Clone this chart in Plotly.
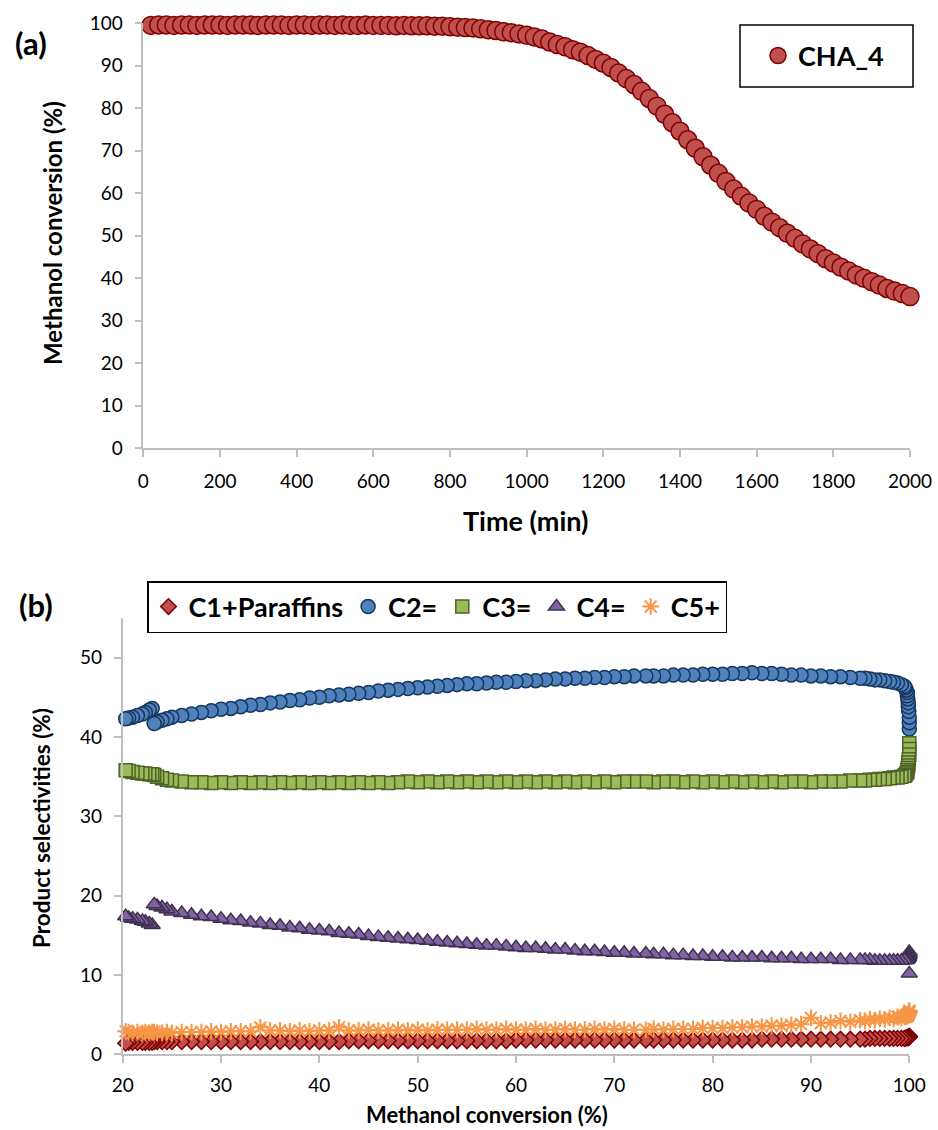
import plotly.graph_objects as go

W, H = 938, 1130
FONT = "Lato"

# ---------------- (a) Methanol conversion vs time ----------------
time_min = [20, 40, 60, 80, 100, 120, 140, 160, 180, 200,
            220, 240, 260, 280, 300, 320, 340, 360, 380, 400,
            420, 440, 460, 480, 500, 520, 540, 560, 580, 600,
            620, 640, 660, 680, 700, 720, 740, 760, 780, 800,
            820, 840, 860, 880, 900, 920, 940, 960, 980, 1000,
            1020, 1040, 1060, 1080, 1100, 1120, 1140, 1160, 1180, 1200,
            1220, 1240, 1260, 1280, 1300, 1320, 1340, 1360, 1380, 1400,
            1420, 1440, 1460, 1480, 1500, 1520, 1540, 1560, 1580, 1600,
            1620, 1640, 1660, 1680, 1700, 1720, 1740, 1760, 1780, 1800,
            1820, 1840, 1860, 1880, 1900, 1920, 1940, 1960, 1980, 2000]
cha4_conversion = [99.5, 99.6, 99.6, 99.5, 99.6, 99.6, 99.5, 99.6, 99.6, 99.6,
                   99.5, 99.6, 99.6, 99.6, 99.5, 99.6, 99.6, 99.6, 99.5, 99.6,
                   99.6, 99.5, 99.6, 99.6, 99.5, 99.6, 99.5, 99.5, 99.6, 99.5,
                   99.5, 99.5, 99.4, 99.5, 99.4, 99.4, 99.4, 99.3, 99.3, 99.2,
                   99.1, 99.0, 98.9, 98.7, 98.5, 98.3, 98.0, 97.8, 97.5, 97.2,
                   96.8, 96.3, 95.6, 95.0, 94.5, 93.8, 93.2, 92.4, 91.5, 90.6,
                   89.6, 88.3, 87.0, 85.6, 84.0, 82.3, 80.5, 78.6, 76.6, 74.6,
                   72.6, 70.6, 68.6, 66.6, 64.7, 62.8, 61.0, 59.3, 57.7, 56.2,
                   54.6, 53.2, 51.9, 50.6, 49.4, 48.1, 46.9, 45.8, 44.6, 43.6,
                   42.6, 41.7, 40.8, 40.0, 39.2, 38.4, 37.6, 37.0, 36.4, 35.7]

# ---------------- (b) Product selectivities vs conversion ----------------
conversion = [100.0, 100.0, 100.0, 99.95, 99.9, 99.9, 99.85, 99.8, 99.8, 99.7,
              99.6, 99.5, 99.2, 98.8, 98.4, 98.0, 97.5, 97.0, 96.5, 96.0,
              95.5, 95.0, 94.0, 93.0, 92.0, 91.0, 90.0, 89.0, 88.0, 87.0,
              86.0, 85.0, 84.0, 83.0, 82.0, 81.0, 80.0, 79.0, 78.0, 77.0,
              76.0, 75.0, 74.0, 73.2, 72.0, 71.0, 70.0, 69.0, 68.0, 67.0,
              66.0, 65.0, 64.0, 63.0, 62.0, 61.0, 60.0, 59.0, 58.0, 57.0,
              56.0, 55.0, 54.0, 53.0, 52.0, 51.0, 50.0, 49.0, 48.0, 47.0,
              46.0, 45.0, 44.0, 43.0, 42.0, 41.0, 40.0, 39.0, 38.0, 37.0,
              36.0, 35.0, 34.0, 33.0, 32.0, 31.0, 30.0, 29.0, 28.0, 27.0,
              26.0, 25.0, 24.5, 24.0, 23.5, 23.2, 23.0, 22.7, 22.3, 22.0,
              21.5, 21.0, 20.6, 20.3]
c1_paraffins = [2.3, 2.2, 2.2, 2.2, 2.2, 2.1, 2.1, 2.1, 2.1, 2.1,
                2.0, 2.0, 2.0, 2.0, 2.0, 2.0, 2.0, 2.0, 2.0, 2.0,
                1.9, 1.9, 1.9, 1.9, 1.9, 1.9, 1.9, 1.9, 1.9, 1.9,
                1.9, 1.9, 1.8, 1.8, 1.8, 1.8, 1.8, 1.8, 1.8, 1.8,
                1.8, 1.8, 1.8, 1.8, 1.8, 1.8, 1.8, 1.8, 1.8, 1.8,
                1.8, 1.8, 1.8, 1.8, 1.8, 1.8, 1.8, 1.7, 1.7, 1.7,
                1.7, 1.7, 1.7, 1.7, 1.7, 1.7, 1.7, 1.7, 1.7, 1.7,
                1.7, 1.7, 1.7, 1.7, 1.6, 1.6, 1.6, 1.6, 1.6, 1.6,
                1.6, 1.6, 1.6, 1.6, 1.6, 1.6, 1.6, 1.6, 1.6, 1.6,
                1.6, 1.6, 1.6, 1.6, 1.6, 1.6, 1.5, 1.5, 1.5, 1.5,
                1.5, 1.5, 1.5, 1.4]
c2_olefin = [41.0, 41.8, 42.5, 43.2, 43.8, 44.3, 44.8, 45.2, 45.6, 45.9,
             46.2, 46.4, 46.6, 46.8, 46.9, 47.0, 47.1, 47.2, 47.2, 47.3,
             47.4, 47.4, 47.5, 47.6, 47.6, 47.7, 47.7, 47.8, 47.8, 47.9,
             48.0, 48.0, 48.1, 48.0, 48.0, 47.9, 47.9, 47.9, 47.8, 47.8,
             47.8, 47.7, 47.7, 47.7, 47.7, 47.6, 47.6, 47.5, 47.5, 47.4,
             47.4, 47.3, 47.3, 47.2, 47.1, 47.1, 47.0, 46.9, 46.9, 46.8,
             46.7, 46.7, 46.6, 46.5, 46.4, 46.3, 46.2, 46.1, 46.0, 45.9,
             45.8, 45.6, 45.5, 45.4, 45.3, 45.2, 45.0, 44.9, 44.7, 44.6,
             44.4, 44.3, 44.1, 44.0, 43.8, 43.6, 43.5, 43.3, 43.1, 42.9,
             42.7, 42.5, 42.3, 42.1, 41.9, 41.7, 43.6, 43.4, 43.1, 42.9,
             42.7, 42.5, 42.4, 42.3]
c3_olefin = [39.2, 38.5, 37.8, 37.2, 36.8, 36.4, 36.1, 35.8, 35.6, 35.4,
             35.2, 35.1, 35.0, 34.9, 34.9, 34.8, 34.7, 34.7, 34.6, 34.6,
             34.5, 34.5, 34.5, 34.4, 34.4, 34.4, 34.3, 34.4, 34.4, 34.3,
             34.4, 34.3, 34.4, 34.3, 34.4, 34.3, 34.4, 34.3, 34.4, 34.3,
             34.4, 34.4, 34.3, 34.4, 34.4, 34.4, 34.3, 34.4, 34.3, 34.4,
             34.3, 34.4, 34.3, 34.4, 34.3, 34.4, 34.3, 34.4, 34.3, 34.4,
             34.3, 34.4, 34.3, 34.4, 34.3, 34.4, 34.3, 34.4, 34.3, 34.2,
             34.3, 34.2, 34.3, 34.2, 34.3, 34.2, 34.3, 34.2, 34.3, 34.2,
             34.3, 34.2, 34.3, 34.2, 34.3, 34.2, 34.3, 34.2, 34.3, 34.3,
             34.4, 34.5, 34.6, 34.8, 35.0, 35.2, 35.3, 35.3, 35.4, 35.4,
             35.5, 35.6, 35.7, 35.8]
c4_olefin = [10.2, 12.9, 12.6, 12.4, 12.3, 12.2, 12.1, 12.0, 12.0, 11.9,
             11.9, 11.9, 11.8, 11.8, 11.8, 11.8, 11.8, 11.8, 11.8, 11.9,
             11.9, 11.9, 11.9, 11.9, 12.0, 12.0, 12.0, 12.0, 12.1, 12.1,
             12.1, 12.2, 12.2, 12.2, 12.2, 12.3, 12.3, 12.4, 12.4, 12.5,
             12.5, 12.6, 12.6, 12.7, 12.7, 12.8, 12.8, 12.9, 13.0, 13.0,
             13.1, 13.2, 13.2, 13.3, 13.4, 13.4, 13.5, 13.6, 13.7, 13.7,
             13.8, 13.9, 14.0, 14.1, 14.2, 14.3, 14.4, 14.5, 14.6, 14.7,
             14.8, 14.9, 15.1, 15.2, 15.3, 15.5, 15.6, 15.7, 15.9, 16.0,
             16.2, 16.3, 16.5, 16.6, 16.8, 16.9, 17.1, 17.3, 17.4, 17.6,
             17.8, 18.0, 18.3, 18.5, 18.7, 18.9, 16.3, 16.5, 16.7, 16.8,
             17.0, 17.1, 17.2, 17.4]
c5_plus = [5.5, 5.3, 5.4, 5.2, 5.0, 5.1, 4.9, 5.0, 4.8, 4.9,
           4.7, 4.8, 4.6, 4.7, 4.5, 4.6, 4.4, 4.5, 4.3, 4.4,
           4.2, 4.3, 4.1, 4.2, 4.0, 3.9, 4.6, 3.8, 3.7, 3.6,
           3.6, 3.5, 3.5, 3.4, 3.4, 3.3, 3.3, 3.3, 3.2, 3.2,
           3.2, 3.1, 3.2, 3.1, 3.1, 3.1, 3.2, 3.1, 3.2, 3.1,
           3.1, 3.2, 3.1, 3.1, 3.2, 3.1, 3.1, 3.2, 3.1, 3.1,
           3.2, 3.1, 3.1, 3.1, 3.1, 3.0, 3.1, 3.0, 3.1, 3.0,
           3.0, 3.1, 3.0, 3.0, 3.4, 3.0, 3.0, 2.9, 3.0, 2.9,
           3.0, 3.0, 3.4, 2.9, 2.9, 2.9, 2.8, 2.9, 2.8, 2.8,
           2.8, 2.7, 2.8, 2.7, 2.7, 2.8, 2.8, 2.7, 2.8, 2.7,
           2.8, 2.7, 2.8, 2.9]

# ---------------- geometry helpers (pixel -> paper) ----------------
def px(x):
    return x / W

def py(y):
    return (H - y) / H

fig = go.Figure()

fig.add_trace(go.Scatter(
    x=time_min, y=cha4_conversion, mode="markers", name="<b>CHA_4</b>",
    marker=dict(symbol="circle", size=18, color="#C0504D",
                line=dict(color="#7F0000", width=1.5)),
    cliponaxis=False, xaxis="x", yaxis="y", legend="legend", showlegend=True))

series_b = [
    ("C1+Paraffins", c1_paraffins, "diamond", 12, "#C0504D", "#7F0000"),
    ("C2=", c2_olefin, "circle", 14, "#4F81BD", "#17375E"),
    ("C3=", c3_olefin, "square", 13, "#9BBB59", "#4F6228"),
    ("C4=", c4_olefin, "triangle-up", 14, "#8064A2", "#3F3151"),
]
for name, vals, sym, size, fill, edge in series_b:
    fig.add_trace(go.Scatter(
        x=conversion, y=vals, mode="markers", name="<b>" + name + "</b>",
        marker=dict(symbol=sym, size=size, color=fill,
                    line=dict(color=edge, width=1.5)),
        cliponaxis=False, xaxis="x2", yaxis="y2", legend="legend2", showlegend=True))
fig.add_trace(go.Scatter(
    x=conversion, y=c5_plus, mode="markers", name="<b>C5+</b>",
    marker=dict(symbol="asterisk-open", size=14, color="#F79646",
                line=dict(color="#F79646", width=2)),
    cliponaxis=False, xaxis="x2", yaxis="y2", legend="legend2", showlegend=True))

axis_common = dict(showline=True, linecolor="#BFBFBF", linewidth=1.5,
                   ticks="outside", tickcolor="#BFBFBF", tickwidth=1.5, ticklen=7,
                   showgrid=False, zeroline=False, automargin=False,
                   tickfont=dict(family=FONT, size=19, color="#000000"))

def label(text, x, y, size, angle=0):
    return dict(text="<b>" + text + "</b>", xref="paper", yref="paper",
                x=px(x), y=py(y), xanchor="center", yanchor="middle",
                showarrow=False, textangle=angle,
                font=dict(family=FONT, size=size, color="#000000"))

fig.update_layout(
    template="none",
    width=W, height=H, autosize=False, showlegend=True,
    margin=dict(l=0, r=0, t=0, b=0, pad=0),
    paper_bgcolor="white", plot_bgcolor="white",
    font=dict(family=FONT, color="#000000"),
    xaxis=dict(domain=[px(143.3), px(910)], range=[0, 2000], dtick=200,
               anchor="y", ticklabelstandoff=8, **axis_common),
    yaxis=dict(domain=[py(448.3), py(23.3)], range=[0, 100], dtick=10,
               anchor="x", ticklabelstandoff=8, **axis_common),
    xaxis2=dict(domain=[px(122.7), px(909.3)], range=[20, 100], dtick=10,
                anchor="y2", ticklabelstandoff=6, **axis_common),
    yaxis2=dict(domain=[py(1054.3), py(618)], range=[0, 55], tickvals=[0, 10, 20, 30, 40, 50],
                anchor="x2", ticklabelstandoff=8, **axis_common),
    legend=dict(x=px(758), y=py(56), xanchor="left", yanchor="middle", visible=True,
                bgcolor="rgba(0,0,0,0)", borderwidth=0,
                font=dict(family=FONT, size=27, color="#000000"),
                itemclick=False, itemdoubleclick=False),
    legend2=dict(orientation="h", x=px(147), y=py(581), xanchor="left", yanchor="top", visible=True,
                 bgcolor="white", bordercolor="#000000", borderwidth=1.5,
                 font=dict(family=FONT, size=27, color="#000000"),
                 itemclick=False, itemdoubleclick=False),
    shapes=[dict(type="rect", xref="paper", yref="paper",
                 x0=px(740), x1=px(913), y0=py(87), y1=py(25),
                 line=dict(color="#000000", width=1.5), fillcolor="rgba(0,0,0,0)")],
    annotations=[
        label("(a)", 31, 43, 31),
        label("(b)", 36, 605, 31),
        label("Time (min)", 525, 520, 27),
        label("Methanol conversion (%)", 52, 233, 24, -90),
        label("Methanol conversion (%)", 487, 1114, 22),
        label("Product selectivities (%)", 41, 828, 22.5, -90),
    ],
)

fig.write_html(
    "out.html",
    config={"displayModeBar": False},
    post_script="document.body.style.margin='0';document.body.style.padding='0';"
                "document.body.style.overflow='hidden';"
                "document.documentElement.style.overflow='hidden';",
)
